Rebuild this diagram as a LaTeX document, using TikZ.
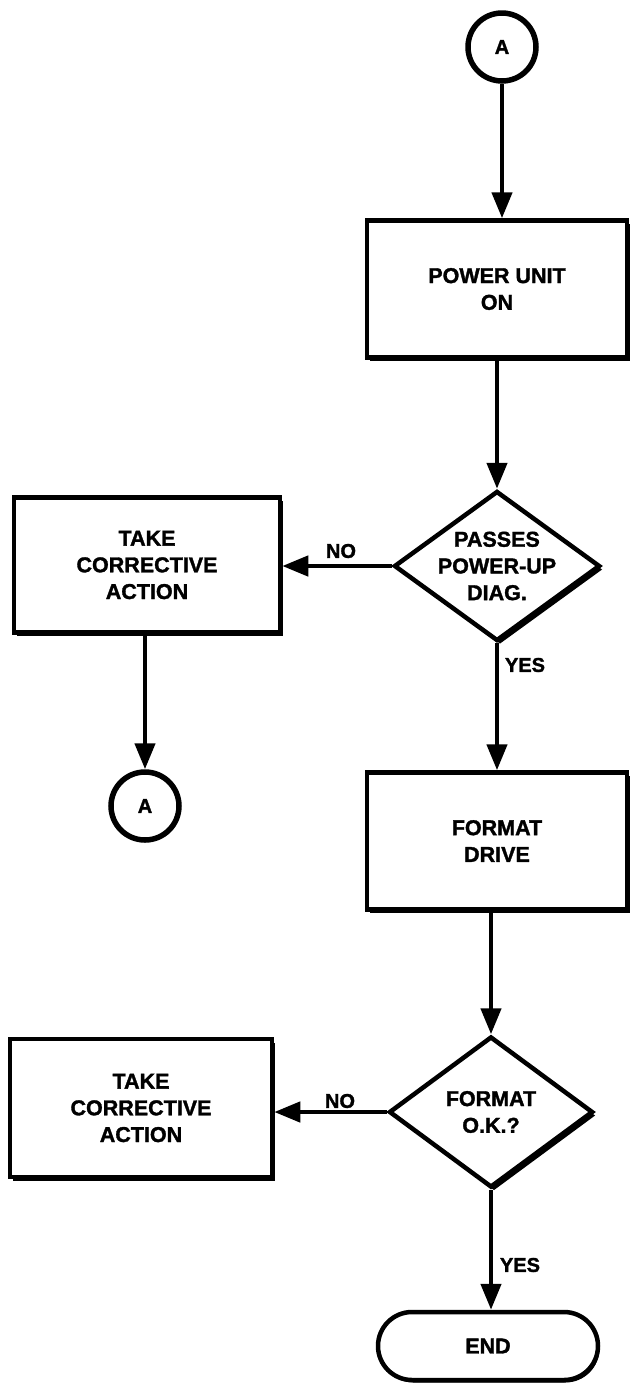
\documentclass[tikz,border=0pt]{standalone}
\usepackage{fontspec}
\setmainfont{Liberation Sans}[BoldFeatures={FakeBold=1.5}]
\usetikzlibrary{arrows.meta,shapes.geometric,shapes.misc,shadows}
\begin{document}
\begin{tikzpicture}[x=1pt,y=-1pt,
  every node/.style={font=\fontsize{21.5}{26.7}\selectfont\bfseries, align=center},
  shad/.style={general shadow={fill=black, shadow xshift=3pt, shadow yshift=-3.5pt}},
  boxnode/.style={rectangle, draw, line width=4.5pt, fill=white, inner sep=0pt, shad},
  dia/.style={diamond, draw, line width=4.5pt, fill=white, inner sep=0pt, shad},
  circ/.style={circle, draw, line width=5.5pt, fill=white, inner sep=0pt, minimum size=68pt, font=\fontsize{20}{22}\selectfont\bfseries},
  term/.style={rounded rectangle, draw, line width=4.5pt, fill=white, inner sep=0pt, general shadow={fill=black, shadow xshift=1.5pt, shadow yshift=-2.5pt}},
  conn/.style={line width=4.5pt, -{Triangle[length=26pt,width=20pt]}},
  lbl/.style={font=\fontsize{20}{22}\selectfont\bfseries, inner sep=0pt}
]
\useasboundingbox (0,0) rectangle (638,1393);

\node[circ] (a1) at (502,47) {A};
\node[boxnode, minimum width=260pt, minimum height=137pt] (b1) at (497,289) {POWER UNIT\\ON};
\node[dia, minimum width=206pt, minimum height=150pt,
  label={[align=center]center:PASSES\\POWER-UP\\DIAG.}] (d1) at (497,566) {};
\node[boxnode, minimum width=266pt, minimum height=135pt] (b2) at (147,565) {TAKE\\CORRECTIVE\\ACTION};
\node[circ] (a2) at (145,806) {A};
\node[boxnode, minimum width=260pt, minimum height=137pt] (b3) at (497,841) {FORMAT\\DRIVE};
\node[dia, minimum width=204pt, minimum height=151pt,
  label={[align=center]center:FORMAT\\O.K.?}] (d2) at (491,1112) {};
\node[boxnode, minimum width=262pt, minimum height=138pt] (b4) at (141,1108) {TAKE\\CORRECTIVE\\ACTION};
\node[term, minimum width=220pt, minimum height=68pt] (e) at (488,1346) {END};

\draw[conn] (a1.south) -- (a1.south |- b1.north);
\draw[conn] (b1.south) -- (d1.north);
\draw[conn] (d1.west) -- (d1.west -| b2.east);
\draw[conn] (b2.south -| a2.north) -- (a2.north);
\draw[conn] (d1.south) -- (d1.south |- b3.north);
\draw[conn] (d2.north |- b3.south) -- (d2.north);
\draw[conn] (d2.west) -- (d2.west -| b4.east);
\draw[conn] (d2.south) -- (d2.south |- e.north);

\node[lbl] (no1) at (341,551) {NO};
\node[lbl] (yes1) at (525,665) {YES};
\node[lbl] (no2) at (340,1101) {NO};
\node[lbl] (yes2) at (520,1265) {YES};
\end{tikzpicture}
\end{document}
